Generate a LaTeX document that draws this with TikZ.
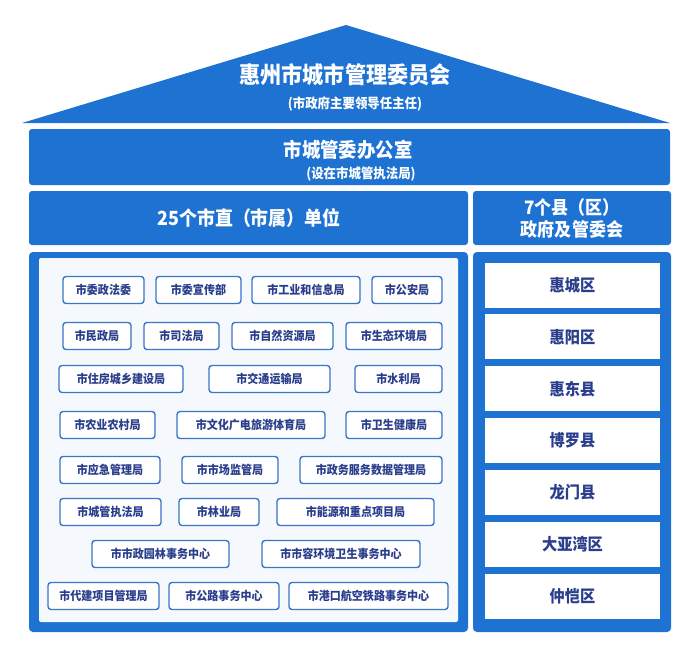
\documentclass[tikz,border=0pt]{standalone}
\usepackage{fontspec}
\setmainfont{Noto Sans CJK SC}[FakeStretch=0.92]
\usepackage{tikz}

\definecolor{hzblue}{RGB}{30,114,210}
\definecolor{hzpanel}{RGB}{245,249,254}
\definecolor{hzline}{RGB}{58,118,200}
\definecolor{hznavy}{RGB}{42,62,140}

\tikzset{
	band/.style={fill=hzblue, rounded corners=3pt, text=white, font=\bfseries},
	unit/.style={draw=hzline, line width=1.4pt, rounded corners=3pt, fill=white,
		minimum height=27pt, inner sep=0pt, text=hznavy, font=\bfseries\fontsize{12}{12}\selectfont},
	county/.style={fill=white, minimum width=175pt, minimum height=45pt, inner sep=0pt,
		text=hznavy, font=\bfseries\fontsize{16.5}{16.5}\selectfont}
}

\begin{document}
\begin{tikzpicture}[x=1pt,y=-1pt]
	\useasboundingbox (0,0) rectangle (692,656);

	%Roof
	\fill[hzblue] (22,123) -- (346,25) -- (670,123) -- cycle;
	\node (title) at (345,75) [text=white, font=\bfseries\fontsize{23}{23}\selectfont] {惠州市城市管理委员会};
	\node (titlesub) at (355,104) [text=white, font=\bfseries\fontsize{13.5}{13.5}\selectfont] {(市政府主要领导任主任)};

	%Office
	\fill[band] (29,129) rectangle (670,185);
	\node (office) at (348,150) [text=white, font=\bfseries\fontsize{20}{20}\selectfont] {市城管委办公室};
	\node (officesub) at (361,174) [text=white, font=\bfseries\fontsize{13.5}{13.5}\selectfont] {(设在市城管执法局)};

	%Headers
	\fill[band] (29,191) rectangle (468,245);
	\node (cityhead) at (249,218) [text=white, font=\bfseries\fontsize{19.5}{19.5}\selectfont] {25个市直（市属）单位};
	\fill[band] (473,191) rectangle (671,245);
	\node (countyhead) at (572,218) [text=white, align=center, font=\bfseries\fontsize{18.5}{22}\selectfont] {7个县（区）\\政府及管委会};

	%Panels
	\fill[hzblue, rounded corners=4pt] (29,252) rectangle (468,632);
	\fill[hzpanel, rounded corners=2pt] (39,258) rectangle (458,622);
	\fill[hzblue, rounded corners=4pt] (473,252) rectangle (671,632);

	%City units
	\node[unit, minimum width=81pt] (u1) at (103.5,290) {市委政法委};
	\node[unit, minimum width=85pt] (u2) at (198.5,290) {市委宣传部};
	\node[unit, minimum width=108pt] (u3) at (306,290) {市工业和信息局};
	\node[unit, minimum width=70pt] (u4) at (407,290) {市公安局};

	\node[unit, minimum width=68pt] (u5) at (97,336) {市民政局};
	\node[unit, minimum width=75pt] (u6) at (181.5,336) {市司法局};
	\node[unit, minimum width=101pt] (u7) at (282.5,336) {市自然资源局};
	\node[unit, minimum width=96pt] (u8) at (394,336) {市生态环境局};

	\node[unit, minimum width=124pt] (u9) at (121,379) {市住房城乡建设局};
	\node[unit, minimum width=121pt] (u10) at (269.5,379) {市交通运输局};
	\node[unit, minimum width=87pt] (u11) at (398.5,379) {市水利局};

	\node[unit, minimum width=95pt] (u12) at (107.5,425) {市农业农村局};
	\node[unit, minimum width=148pt] (u13) at (251,425) {市文化广电旅游体育局};
	\node[unit, minimum width=96pt] (u14) at (394,425) {市卫生健康局};

	\node[unit, minimum width=100pt] (u15) at (110,470) {市应急管理局};
	\node[unit, minimum width=96pt] (u16) at (230,470) {市市场监管局};
	\node[unit, minimum width=142pt] (u17) at (371,470) {市政务服务数据管理局};

	\node[unit, minimum width=101pt] (u18) at (110.5,512) {市城管执法局};
	\node[unit, minimum width=80pt] (u19) at (219,512) {市林业局};
	\node[unit, minimum width=157pt] (u20) at (355.5,512) {市能源和重点项目局};

	\node[unit, minimum width=137pt] (u21) at (160.5,554) {市市政园林事务中心};
	\node[unit, minimum width=158pt] (u22) at (341,554) {市市容环境卫生事务中心};

	\node[unit, minimum width=111pt] (u23) at (103.5,596) {市代建项目管理局};
	\node[unit, minimum width=110pt] (u24) at (224,596) {市公路事务中心};
	\node[unit, minimum width=159pt] (u25) at (368.5,596) {市港口航空铁路事务中心};

	%Counties
	\foreach \name [count=\i from 0] in {惠城区,惠阳区,惠东县,博罗县,龙门县,大亚湾区,仲恺区}
		\node[county] (c\i) at (572.5,285+51.9*\i) {\name};

\end{tikzpicture}
\end{document}
